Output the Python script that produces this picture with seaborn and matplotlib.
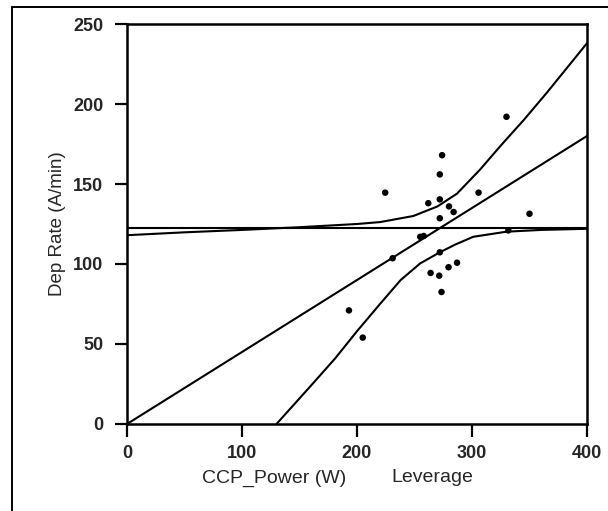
import matplotlib
matplotlib.use("Agg")
import matplotlib.pyplot as plt
from matplotlib.lines import Line2D
import seaborn as sns
import pandas as pd

sns.set_theme(style="white")
plt.rcParams['font.family'] = ['Liberation Sans', 'DejaVu Sans']

# Observed points (CCP_Power leverage, Dep Rate)
pts_x = [193, 205, 224.5, 231, 255, 258, 262, 264, 271.5, 272, 272, 272, 272, 274,
         273.5, 279.6, 280, 284, 287, 305.7, 330, 331.6, 350]
pts_y = [71, 54, 144.6, 103.6, 117, 117.5, 138, 94.4, 92.7, 156, 140.4, 128.6, 107.3, 168,
         82.5, 98, 136, 132.5, 100.8, 144.6, 192, 121, 131.4]

# Fitted line and mean line
fit_x = [0, 400]
fit_y = [0, 180]
mean_x = [0, 400]
mean_y = [122.3, 122.3]

# Confidence curves
upper_x = [0, 50, 100, 150, 200, 220, 249, 270, 287, 307, 325, 345, 365, 400]
upper_y = [118, 119.8, 121.3, 123, 125, 126.2, 130, 136, 144, 159, 174, 190, 207, 238]
lower_x = [130, 160, 181, 200, 220, 238, 255, 272, 285, 301, 330, 360, 400]
lower_y = [0, 24, 41, 58, 75, 90, 100.4, 107.3, 112, 117, 120.2, 121.3, 122]

xticks = [0, 100, 200, 300, 400]
yticks = [0, 50, 100, 150, 200, 250]

W, H = 608, 511
fig = plt.figure(figsize=(W / 100, H / 100), dpi=100)
ax = fig.add_axes([127 / W, 1 - 424 / H, 460 / W, 400 / H])

lw = 1.5
sns.lineplot(x=mean_x, y=mean_y, ax=ax, color="black", lw=lw)
sns.lineplot(x=fit_x, y=fit_y, ax=ax, color="black", lw=lw)
sns.lineplot(x=upper_x, y=upper_y, ax=ax, color="black", lw=lw)
sns.lineplot(x=lower_x, y=lower_y, ax=ax, color="black", lw=lw)
sns.scatterplot(x=pts_x, y=pts_y, ax=ax, color="black", s=22, edgecolor="none")

ax.set_xlim(0, 400)
ax.set_ylim(0, 250)
ax.set_xticks(xticks)
ax.set_yticks(yticks)
ax.set_xticklabels([str(t) for t in xticks], fontsize=13, fontweight="bold")
ax.set_yticklabels([str(t) for t in yticks], fontsize=13, fontweight="bold")
ax.tick_params(axis="y", direction="out", length=9, width=1.6, color="black", pad=8, left=True)
ax.tick_params(axis="x", direction="out", length=9, width=1.6, color="black", pad=6, bottom=True)
for s in ax.spines.values():
    s.set_visible(True)
    s.set_color("black")
    s.set_linewidth(1.8)
ax.grid(False)

ax.set_xlabel("")
ax.set_ylabel("")
ax.text((57 - 127) / 460, 0.5, "Dep Rate (A/min)", transform=ax.transAxes, rotation=90,
        ha="center", va="center", fontsize=13.5)
ax.text((274 - 127) / 460, (424 - 478) / 400, "CCP_Power (W)", transform=ax.transAxes,
        ha="center", va="center", fontsize=14)
ax.text((432 - 127) / 460, (424 - 478) / 400, "Leverage", transform=ax.transAxes,
        ha="center", va="center", fontsize=14)

# outer frame (clipped at right and bottom)
fig.add_artist(Line2D([12 / W, 1.0], [1 - 7 / H, 1 - 7 / H], transform=fig.transFigure,
                      color="black", lw=1.4))
fig.add_artist(Line2D([12 / W, 12 / W], [1 - 7 / H, 0.0], transform=fig.transFigure,
                      color="black", lw=1.4))

fig.savefig("out.png", dpi=100)
